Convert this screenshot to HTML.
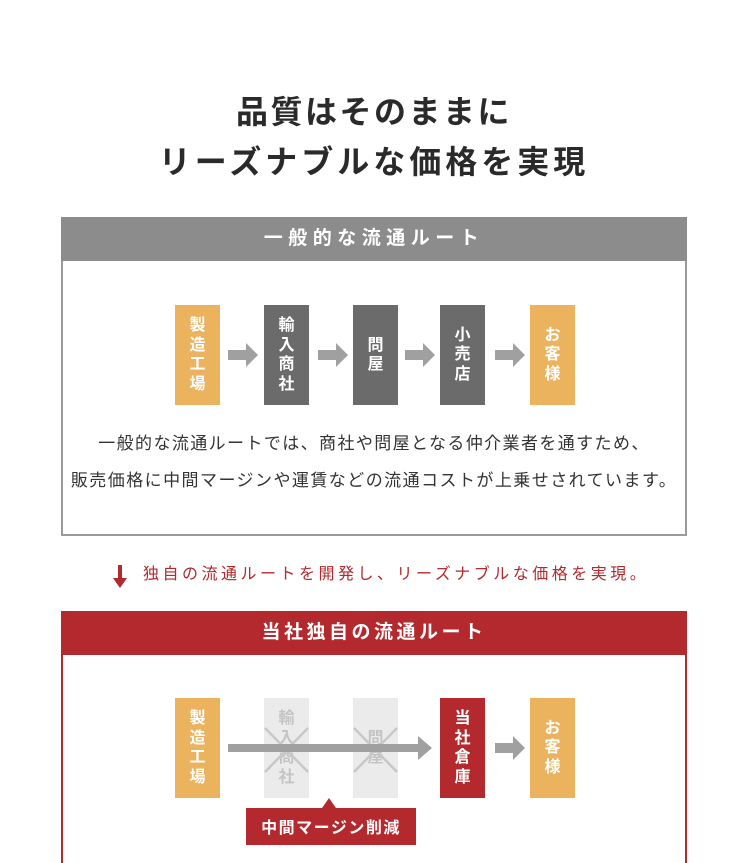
<!DOCTYPE html>
<html><head><meta charset="utf-8"><style>
*{margin:0;padding:0;box-sizing:border-box}
html,body{width:748px;height:863px;overflow:hidden}
body{background:#fff;position:relative;font-family:"Liberation Sans","Noto Sans CJK JP",sans-serif}
.a{position:absolute}
.t{left:0;width:748px;text-align:center;color:#2a2a2a;font-weight:bold;font-size:32px}
.box{position:absolute;width:45px;height:100px;color:#fff;font-size:16px;font-weight:bold;line-height:19.5px;display:flex;align-items:center;justify-content:center;text-align:center}
.box span{width:18px;display:block}
.o{background:#ecb35f}.g{background:#6b6b6b}.r{background:#b3292d}.l{background:#ebebeb;color:#c4c4c4}
</style></head><body>
<div class="a t" style="top:92px;line-height:40px;letter-spacing:2.5px">品質はそのままに</div>
<div class="a t" style="top:142px;line-height:40px;letter-spacing:4px">リーズナブルな価格を実現</div>

<div class="a" style="left:61px;top:217px;width:626px;height:319px;border:2px solid #9a9a9a"></div>
<div class="a" style="left:61px;top:217px;width:626px;height:44px;background:#8c8c8c;color:#fff;font-size:19px;text-align:center;line-height:44px;letter-spacing:5.5px;font-weight:bold">一般的な流通ルート</div>

<div class="box o" style="left:175px;top:305px"><span>製造工場</span></div>
<div class="box g" style="left:264px;top:305px"><span>輸入商社</span></div>
<div class="box g" style="left:353px;top:305px"><span>問屋</span></div>
<div class="box g" style="left:440px;top:305px"><span>小売店</span></div>
<div class="box o" style="left:530px;top:305px"><span>お客様</span></div>
<svg class="a" style="left:0;top:0" width="748" height="863">
<g fill="#a0a0a0">
<path d="M228 350h18v-7l12 12-12 12v-7h-18z"/>
<path d="M318 350h18v-7l12 12-12 12v-7h-18z"/>
<path d="M405 350h18v-7l12 12-12 12v-7h-18z"/>
<path d="M495 350h18v-7l12 12-12 12v-7h-18z"/>
</g>
</svg>

<div class="a" style="left:0;width:748px;top:430px;text-align:center;font-size:17px;color:#333;line-height:28px;letter-spacing:1.4px;white-space:nowrap">一般的な流通ルートでは、商社や問屋となる仲介業者を通すため、</div>
<div class="a" style="left:0;width:748px;top:467px;text-align:center;font-size:17px;color:#333;line-height:28px;letter-spacing:1.45px;white-space:nowrap">販売価格に中間マージンや運賃などの流通コストが上乗せされています。</div>

<svg class="a" style="left:110px;top:563px" width="20" height="26"><path d="M8 2h4v13h5l-7 10-7-10h5z" fill="#b3292d"/></svg>
<div class="a" style="left:143px;top:564px;font-size:16px;color:#b3292d;letter-spacing:3.5px;line-height:22px;white-space:nowrap">独自の流通ルートを開発し、リーズナブルな価格を実現。</div>

<div class="a" style="left:61px;top:611px;width:626px;height:252px;border:2px solid #b3292d;border-bottom:none"></div>
<div class="a" style="left:61px;top:611px;width:626px;height:44px;background:#b3292d;color:#fff;font-size:19px;text-align:center;line-height:44px;letter-spacing:3.5px;font-weight:bold">当社独自の流通ルート</div>

<div class="box o" style="left:175px;top:698px"><span>製造工場</span></div>
<div class="box l" style="left:264px;top:698px"><span>輸入商社</span></div>
<div class="box l" style="left:353px;top:698px"><span>問屋</span></div>
<div class="box r" style="left:440px;top:698px"><span>当社倉庫</span></div>
<div class="box o" style="left:530px;top:698px"><span>お客様</span></div>
<svg class="a" style="left:0;top:0" width="748" height="863">
<g stroke="#c8c8c8" stroke-width="2.5">
<path d="M265 728l43 44M308 728l-43 44M354 728l43 44M397 728l-43 44"/>
</g>
<g fill="#a0a0a0">
<path d="M228 744h190v-8l14 12-14 12v-8h-190z"/>
<path d="M495 743h18v-7l12 12-12 12v-7h-18z"/>
</g>
<path d="M246 808h170v37h-170z M322 808l7-10 7 10z" fill="#b3292d"/>
<text x="331" y="833" fill="#fff" font-size="16" font-weight="bold" text-anchor="middle" letter-spacing="1.5" font-family="Liberation Sans, Noto Sans CJK JP, sans-serif">中間マージン削減</text>
</svg>
</body></html>
